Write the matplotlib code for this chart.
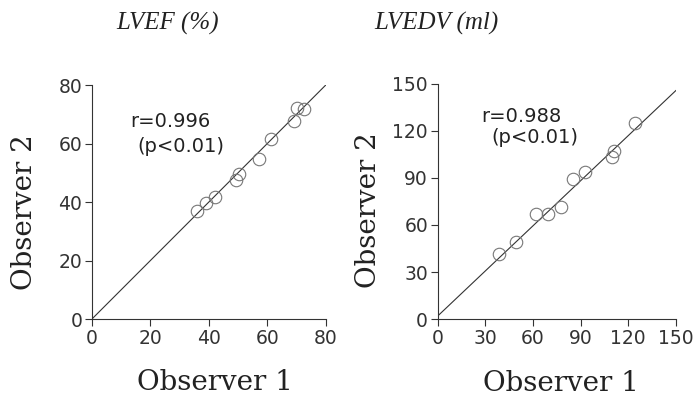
import matplotlib
matplotlib.use("Agg")
import matplotlib.pyplot as plt

# LVEF (%) — observer 1 vs observer 2
lvef_obs1 = [35.8, 39.2, 42.2, 49.2, 50.3, 57.3, 61.4, 69.2, 70.2, 72.5]
lvef_obs2 = [36.8, 39.8, 41.6, 47.7, 49.7, 54.6, 61.5, 67.7, 72.0, 71.8]
lvef_line = ([0, 80], [0, 80])
lvef_ticks = [0, 20, 40, 60, 80]

# LVEDV (ml) — observer 1 vs observer 2
lvedv_obs1 = [38.8, 49.5, 61.8, 69.2, 77.6, 84.9, 92.5, 110.1, 111.1, 124.3]
lvedv_obs2 = [41.8, 49.3, 66.9, 67.1, 71.4, 89.4, 94.1, 103.5, 107.1, 124.9]
lvedv_line = ([0, 150], [2.0, 145.7])
lvedv_ticks = [0, 30, 60, 90, 120, 150]

SANS = "DejaVu Sans"
SERIF = "DejaVu Serif"
TITLE_SERIF = "Liberation Serif"
INK = "#222222"

fig = plt.figure(figsize=(6.96, 4.07), dpi=100)
ax1 = fig.add_axes([0.132, 0.216, 0.336, 0.575])
ax2 = fig.add_axes([0.629, 0.216, 0.342, 0.578])


def style(ax, ticks, xlab_pos, ylab_pos):
    ax.set_xlim(ticks[0], ticks[-1])
    ax.set_ylim(ticks[0], ticks[-1])
    ax.set_xticks(ticks)
    ax.set_yticks(ticks)
    for side in ("top", "right"):
        ax.spines[side].set_visible(False)
    for side in ("left", "bottom"):
        ax.spines[side].set_linewidth(0.8)
        ax.spines[side].set_color("#333333")
    ax.tick_params(direction="out", length=5, width=0.8, colors="#333333",
                   labelsize=13.5, pad=2)
    for lab in ax.get_xticklabels() + ax.get_yticklabels():
        lab.set_fontfamily(SANS)
        lab.set_color("#333333")
    ax.set_xlabel("Observer 1", fontfamily=SERIF, fontsize=20, color=INK)
    ax.set_ylabel("Observer 2", fontfamily=SERIF, fontsize=20, color=INK)
    ax.xaxis.set_label_coords(*xlab_pos)
    ax.yaxis.set_label_coords(*ylab_pos)
    ax.xaxis.label.set_va("center")
    ax.yaxis.label.set_va("center")


def scatter(ax, x, y, line):
    ax.plot(line[0], line[1], color="#333333", linewidth=0.8)
    ax.plot(x, y, linestyle="none", marker="o", markersize=9,
            markerfacecolor="none", markeredgecolor="#777777",
            markeredgewidth=0.8, clip_on=False)


scatter(ax1, lvef_obs1, lvef_obs2, lvef_line)
style(ax1, lvef_ticks, (0.526, -0.273), (-0.286, 0.457))
ax1.text(13, 67.5, "r=0.996", fontfamily=SANS, fontsize=14, va="center",
         color=INK)
ax1.text(15.5, 59, "(p<0.01)", fontfamily=SANS, fontsize=14, va="center",
         color=INK)

scatter(ax2, lvedv_obs1, lvedv_obs2, lvedv_line)
style(ax2, lvedv_ticks, (0.517, -0.273), (-0.29, 0.464))
ax2.text(27.7, 129, "r=0.988", fontfamily=SANS, fontsize=14, va="center",
         color=INK)
ax2.text(33.5, 115.7, "(p<0.01)", fontfamily=SANS, fontsize=14, va="center",
         color=INK)

fig.text(168 / 696, 1 - 23 / 407, "LVEF (%)", fontfamily=TITLE_SERIF,
         fontstyle="italic", fontsize=18, ha="center", va="center",
         color=INK)
fig.text(436 / 696, 1 - 23 / 407, "LVEDV (ml)", fontfamily=TITLE_SERIF,
         fontstyle="italic", fontsize=18, ha="center", va="center",
         color=INK)

fig.savefig("out.png", dpi=100)
